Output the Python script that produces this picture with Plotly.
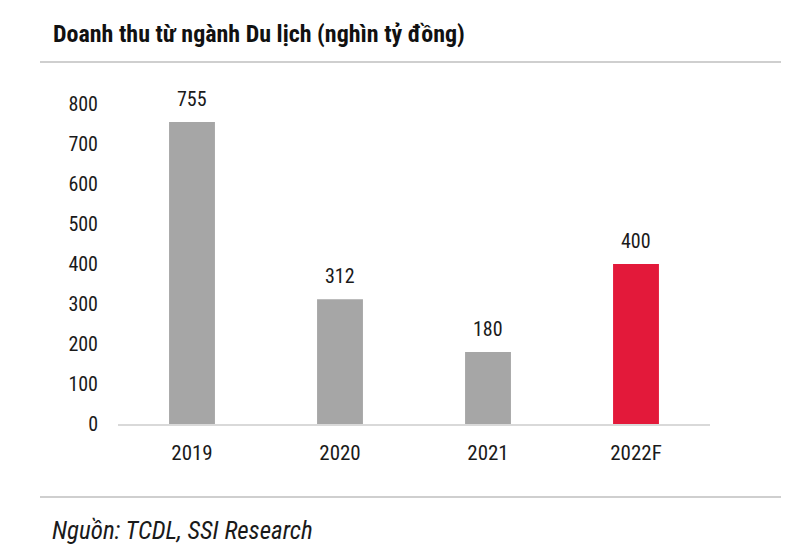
import plotly.graph_objects as go

categories = ["2019", "2020", "2021", "2022F"]
values = [755, 312, 180, 400]
bar_colors = ["#A6A6A6", "#A6A6A6", "#A6A6A6", "#E3193A"]
y_ticks = [0, 100, 200, 300, 400, 500, 600, 700, 800]
title_text = "Doanh thu từ ngành Du lịch (nghìn tỷ đồng)"
source_text = "Nguồn: TCDL, SSI Research"

FONT = "Roboto Condensed, Liberation Sans Narrow, sans-serif"

OFF = 8  # page body margin
W, H = 800, 559
L, T = 118 - OFF, 104 - OFF
pw, ph = 592, 320
R = W - L - pw
B = H - T - ph

def px_x(x):
    return (x - OFF - L) / pw

def px_y(y):
    return (T + ph - (y - OFF)) / ph

fig = go.Figure(
    go.Bar(
        x=categories,
        y=values,
        marker=dict(color=bar_colors, line=dict(width=0)),
        width=0.31,
        cliponaxis=False,
    )
)

# value labels above the bars (x given as category index)
for i, v in enumerate(values):
    fig.add_annotation(
        x=i, y=v, text=str(v),
        xref="x", yref="y",
        yanchor="middle", yshift=23,
        showarrow=False,
        font=dict(family=FONT, size=20, color="#1a1a1a"),
    )

fig.update_layout(
    width=W,
    height=H,
    margin=dict(l=L, r=R, t=T, b=B),
    paper_bgcolor="white",
    plot_bgcolor="white",
    showlegend=False,
    font=dict(family=FONT, size=20, color="#1a1a1a"),
)

fig.update_xaxes(
    type="category",
    range=[-0.5, len(categories) - 0.5],
    showline=True,
    linecolor="#D9D9D9",
    linewidth=1.5,
    showgrid=False,
    ticks="",
    tickfont=dict(family=FONT, size=21, color="#1a1a1a"),
    ticklabelstandoff=9,
)
fig.update_yaxes(
    range=[0, 800],
    tickvals=y_ticks,
    showgrid=False,
    zeroline=False,
    showline=False,
    ticks="",
    tickfont=dict(family=FONT, size=20, color="#1a1a1a"),
    ticklabelstandoff=19,
)

fig.add_annotation(
    text="<b>" + title_text + "</b>",
    xref="paper", yref="paper",
    x=px_x(51), y=px_y(34),
    xanchor="left", yanchor="middle",
    showarrow=False,
    font=dict(family=FONT, size=24, color="#111111"),
)
fig.add_annotation(
    text="<i>" + source_text + "</i>",
    xref="paper", yref="paper",
    x=px_x(50), y=px_y(530),
    xanchor="left", yanchor="middle",
    showarrow=False,
    font=dict(family=FONT, size=25, color="#1a1a1a"),
)

for yy in (62, 497):
    fig.add_shape(
        type="line", xref="paper", yref="paper",
        x0=px_x(40), x1=px_x(781), y0=px_y(yy), y1=px_y(yy),
        line=dict(color="#BFBFBF", width=1.5),
    )

fig.write_html("out.html")
